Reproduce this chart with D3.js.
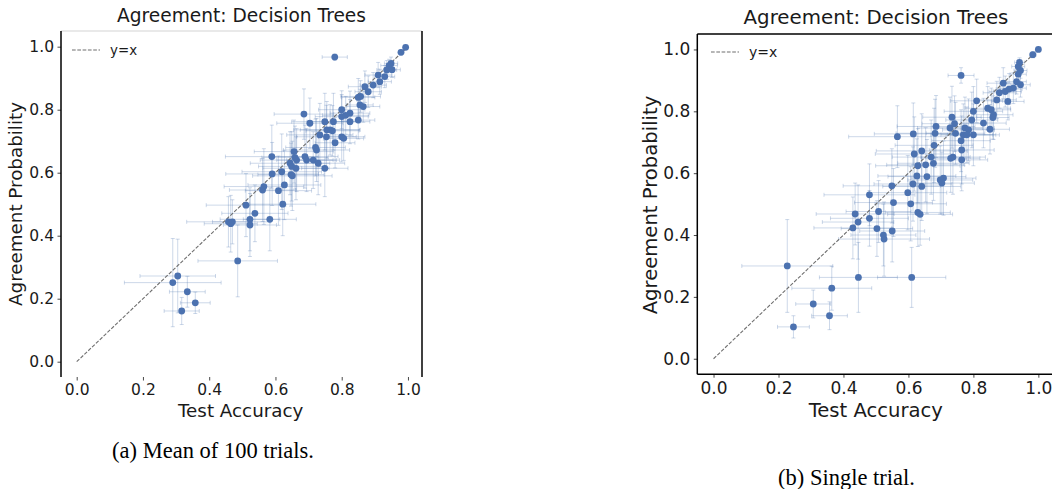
<!DOCTYPE html>
<html>
<head>
<meta charset="utf-8">
<script src="https://cdn.jsdelivr.net/npm/d3@7"></script>
<style>
  html, body { margin: 0; padding: 0; background: #fff; }
  svg { display: block; }
</style>
</head>
<body>
<svg id="chart" width="1052" height="489"></svg>
<script>
// ---- data: [test accuracy, agreement probability, x error, y error] ----
const titleText = "Agreement: Decision Trees";
const xLabelText = "Test Accuracy";
const yLabelText = "Agreement Probability";
const legendText = "y=x";
const tickValues = [0.0, 0.2, 0.4, 0.6, 0.8, 1.0];
const captions = ["(a) Mean of 100 trials.", "(b) Single trial."];

const meanTrials = [
  [.993,.998,.005,.004],[.979,.982,.008,.008],[.779,.967,.038,.010],[.949,.947,.020,.020],
  [.943,.940,.025,.020],[.936,.926,.030,.030],[.952,.927,.025,.025],[.930,.905,.030,.035],
  [.910,.910,.040,.040],[.915,.889,.035,.040],[.895,.878,.040,.040],[.870,.873,.050,.050],
  [.880,.857,.040,.050],[.850,.839,.050,.060],[.857,.842,.060,.050],[.865,.810,.050,.050],
  [.855,.815,.040,.050],[.800,.800,.070,.060],[.825,.789,.060,.070],[.800,.778,.080,.070],
  [.812,.782,.070,.060],[.850,.767,.050,.060],[.825,.762,.060,.070],[.686,.786,.090,.080],
  [.704,.757,.100,.080],[.749,.762,.100,.090],[.775,.762,.080,.090],[.755,.736,.100,.090],
  [.765,.736,.090,.080],[.772,.733,.080,.080],[.734,.720,.100,.100],[.754,.714,.090,.100],
  [.800,.714,.070,.080],[.806,.709,.060,.070],[.780,.695,.060,.080],[.724,.672,.100,.100],
  [.721,.680,.090,.090],[.656,.667,.120,.100],[.589,.651,.140,.100],[.689,.651,.100,.100],
  [.694,.640,.090,.100],[.714,.640,.080,.090],[.664,.640,.110,.100],[.659,.648,.100,.100],
  [.644,.630,.120,.100],[.649,.620,.100,.110],[.662,.614,.100,.100],[.729,.630,.080,.100],
  [.749,.614,.070,.090],[.619,.603,.120,.120],[.590,.596,.140,.100],[.651,.590,.120,.110],
  [.647,.594,.100,.100],[.565,.556,.120,.120],[.627,.561,.110,.110],[.561,.545,.100,.100],
  [.609,.543,.100,.110],[.511,.497,.120,.100],[.622,.500,.100,.100],[.538,.471,.100,.090],
  [.458,.444,.126,.080],[.465,.438,.080,.090],[.470,.444,.060,.070],[.523,.452,.090,.100],
  [.523,.434,.080,.100],[.583,.452,.080,.100],[.486,.320,.120,.114],[.305,.272,.114,.117],
  [.290,.251,.146,.140],[.334,.222,.054,.049],[.358,.187,.045,.034],[.317,.161,.053,.043]
];

const singleTrial = [
  [1.00,1.00,.005,.005],[.983,.983,.010,.010],[.942,.958,.015,.015],[.938,.945,.020,.020],
  [.945,.932,.020,.025],[.938,.920,.025,.030],[.762,.916,.040,.025],[.892,.891,.050,.050],
  [.933,.896,.030,.040],[.945,.886,.030,.040],[.923,.875,.040,.050],[.910,.872,.040,.050],
  [.898,.864,.050,.050],[.810,.834,.080,.070],[.872,.837,.060,.060],[.880,.860,.050,.050],
  [.906,.832,.050,.060],[.844,.810,.070,.070],[.855,.805,.060,.070],[.862,.789,.060,.080],
  [.860,.780,.050,.070],[.800,.800,.090,.080],[.734,.781,.090,.100],[.795,.772,.080,.090],
  [.831,.762,.070,.080],[.851,.742,.060,.080],[.685,.751,.120,.100],[.742,.760,.100,.090],
  [.728,.746,.100,.100],[.774,.746,.090,.100],[.785,.740,.080,.100],[.745,.729,.090,.100],
  [.682,.729,.120,.110],[.615,.727,.120,.100],[.769,.724,.100,.100],[.780,.724,.080,.090],
  [.800,.724,.080,.100],[.566,.718,.150,.100],[.762,.705,.090,.100],[.679,.690,.120,.120],
  [.764,.675,.100,.110],[.641,.672,.140,.120],[.618,.662,.120,.120],[.670,.652,.120,.120],
  [.737,.652,.100,.120],[.730,.648,.090,.110],[.764,.643,.080,.100],[.677,.632,.110,.120],
  [.653,.627,.120,.120],[.629,.624,.130,.120],[.626,.591,.120,.120],[.657,.589,.120,.120],
  [.708,.584,.100,.120],[.698,.578,.100,.110],[.703,.568,.100,.100],[.549,.559,.150,.120],
  [.614,.565,.120,.120],[.641,.557,.120,.110],[.598,.537,.120,.120],[.480,.530,.140,.100],
  [.554,.505,.120,.110],[.607,.501,.110,.120],[.629,.473,.100,.110],[.636,.467,.100,.100],
  [.436,.468,.120,.100],[.508,.476,.100,.100],[.480,.454,.120,.090],[.445,.442,.110,.120],
  [.429,.423,.120,.100],[.503,.421,.110,.090],[.523,.400,.100,.100],[.525,.387,.140,.120],
  [.550,.413,.100,.100],[.227,.300,.140,.150],[.446,.263,.120,.113],[.610,.263,.105,.097],
  [.364,.228,.123,.071],[.307,.177,.054,.045],[.357,.139,.055,.045],[.246,.103,.049,.036]
];

// ---- drawing ----
const svg = d3.select("#chart");
const FONT = "DejaVu Sans, sans-serif";
const POINT = "#4c72b0";

function drawPanel(data, cfg) {
  const x = d3.scaleLinear().domain(cfg.xDomain).range(cfg.xRange);
  const y = d3.scaleLinear().domain(cfg.yDomain).range(cfg.yRange);
  const g = svg.append("g");

  // axes (ticks + labels)
  const xAxis = d3.axisBottom(x).tickValues(tickValues).tickFormat(d3.format(".1f"))
    .tickSize(3.5).tickPadding(cfg.xPad);
  const yAxis = d3.axisLeft(y).tickValues(tickValues).tickFormat(d3.format(".1f"))
    .tickSize(3.5).tickPadding(3.5);
  const gx = g.append("g").attr("transform", `translate(0,${cfg.yRange[0]})`).call(xAxis);
  const gy = g.append("g").attr("transform", `translate(${cfg.xRange[0]},0)`).call(yAxis);
  [gx, gy].forEach(a => {
    a.select(".domain").remove();
    a.selectAll(".tick line").attr("stroke", "#333").attr("stroke-width", 0.9);
    a.selectAll(".tick text").attr("fill", "#1a1a1a").style("font-family", FONT)
      .style("font-size", cfg.tickFont + "px");
  });

  // error bars
  const eb = g.append("g").attr("stroke", POINT).attr("stroke-opacity", 0.28)
    .attr("stroke-width", 1).attr("fill", "none");
  const cap = 2;
  data.forEach(d => {
    const cx = x(d[0]), cy = y(d[1]);
    const xl = x(d[0] - d[2]), xr = x(d[0] + d[2]);
    const yt = y(d[1] + d[3]), yb = y(d[1] - d[3]);
    eb.append("line").attr("x1", xl).attr("x2", xr).attr("y1", cy).attr("y2", cy);
    eb.append("line").attr("x1", xl).attr("x2", xl).attr("y1", cy - cap).attr("y2", cy + cap);
    eb.append("line").attr("x1", xr).attr("x2", xr).attr("y1", cy - cap).attr("y2", cy + cap);
    eb.append("line").attr("x1", cx).attr("x2", cx).attr("y1", yt).attr("y2", yb);
    eb.append("line").attr("x1", cx - cap).attr("x2", cx + cap).attr("y1", yt).attr("y2", yt);
    eb.append("line").attr("x1", cx - cap).attr("x2", cx + cap).attr("y1", yb).attr("y2", yb);
  });

  // y = x reference
  g.append("line")
    .attr("x1", x(0)).attr("y1", y(0)).attr("x2", x(1)).attr("y2", y(1))
    .attr("stroke", "#6f6f6f").attr("stroke-width", 1.1).attr("stroke-dasharray", "3.7,1.6");

  // points
  g.append("g").selectAll("circle").data(data).join("circle")
    .attr("cx", d => x(d[0])).attr("cy", d => y(d[1])).attr("r", 3.4)
    .attr("fill", POINT);

  // spines
  const [L, R] = cfg.xRange, [B, T] = cfg.yRange;
  const sp = g.append("g").attr("stroke-width", 1.5);
  if (cfg.spines.top) sp.append("line").attr("x1", L).attr("x2", R).attr("y1", T).attr("y2", T).attr("stroke", cfg.spines.top);
  if (cfg.spines.bottom) sp.append("line").attr("x1", L).attr("x2", R).attr("y1", B).attr("y2", B).attr("stroke", cfg.spines.bottom);
  if (cfg.spines.left) sp.append("line").attr("x1", L).attr("x2", L).attr("y1", T).attr("y2", B).attr("stroke", cfg.spines.left);
  if (cfg.spines.right) sp.append("line").attr("x1", R).attr("x2", R).attr("y1", T).attr("y2", B).attr("stroke", cfg.spines.right);

  // legend
  g.append("line").attr("x1", cfg.legX).attr("x2", cfg.legX + 28)
    .attr("y1", cfg.legY).attr("y2", cfg.legY)
    .attr("stroke", "#6f6f6f").attr("stroke-width", 1.1).attr("stroke-dasharray", "3.7,1.6");
  g.append("text").attr("x", cfg.legX + 38).attr("y", cfg.legY).attr("dy", "0.35em")
    .style("font-family", FONT).style("font-size", cfg.legFont + "px").attr("fill", "#1a1a1a")
    .text(legendText);

  // title & labels
  g.append("text").attr("x", cfg.titleX).attr("y", cfg.titleY).attr("text-anchor", "middle")
    .style("font-family", FONT).style("font-size", cfg.titleFont + "px").attr("fill", "#1a1a1a")
    .text(titleText);
  g.append("text").attr("x", cfg.xLabelX).attr("y", cfg.xLabelY).attr("text-anchor", "middle")
    .style("font-family", FONT).style("font-size", cfg.labelFont + "px").attr("fill", "#1a1a1a")
    .text(xLabelText);
  g.append("text").attr("transform", `translate(${cfg.yLabelX},${cfg.yLabelY}) rotate(-90)`)
    .attr("text-anchor", "middle")
    .style("font-family", FONT).style("font-size", cfg.labelFont + "px").attr("fill", "#1a1a1a")
    .text(yLabelText);

  // caption
  g.append("text").attr("x", cfg.capX).attr("y", cfg.capY).attr("text-anchor", "middle")
    .style("font-family", "Liberation Serif, Times New Roman, serif").style("font-size", "22.5px")
    .attr("fill", "#000").text(cfg.caption);
}

drawPanel(meanTrials, {
  xDomain: [-0.0474, 1.0424], xRange: [61, 422],
  yDomain: [-0.0486, 1.0498], yRange: [377, 31],
  xPad: 3.5, tickFont: 15.5, labelFont: 18.3, titleFont: 18.6, legFont: 13.4,
  spines: { left: "#000", right: "#000", top: "#e2e2e2", bottom: null },
  legX: 72, legY: 50,
  titleX: 241.5, titleY: 22,
  xLabelX: 240.7, xLabelY: 416.5,
  yLabelX: 21.5, yLabelY: 204,
  caption: captions[0], capX: 213, capY: 458
});

drawPanel(singleTrial, {
  xDomain: [-0.05, 1.05], xRange: [697.3, 1054.6],
  yDomain: [-0.05, 1.05], yRange: [374.2, 34],
  xPad: 4.7, tickFont: 17, labelFont: 19.6, titleFont: 19.8, legFont: 14,
  spines: { left: "#000", right: "#000", top: "#000", bottom: "#000" },
  legX: 711, legY: 52,
  titleX: 876, titleY: 23.5,
  xLabelX: 875.8, xLabelY: 416.5,
  yLabelX: 657, yLabelY: 205,
  caption: captions[1], capX: 846.5, capY: 485
});
</script>
</body>
</html>
